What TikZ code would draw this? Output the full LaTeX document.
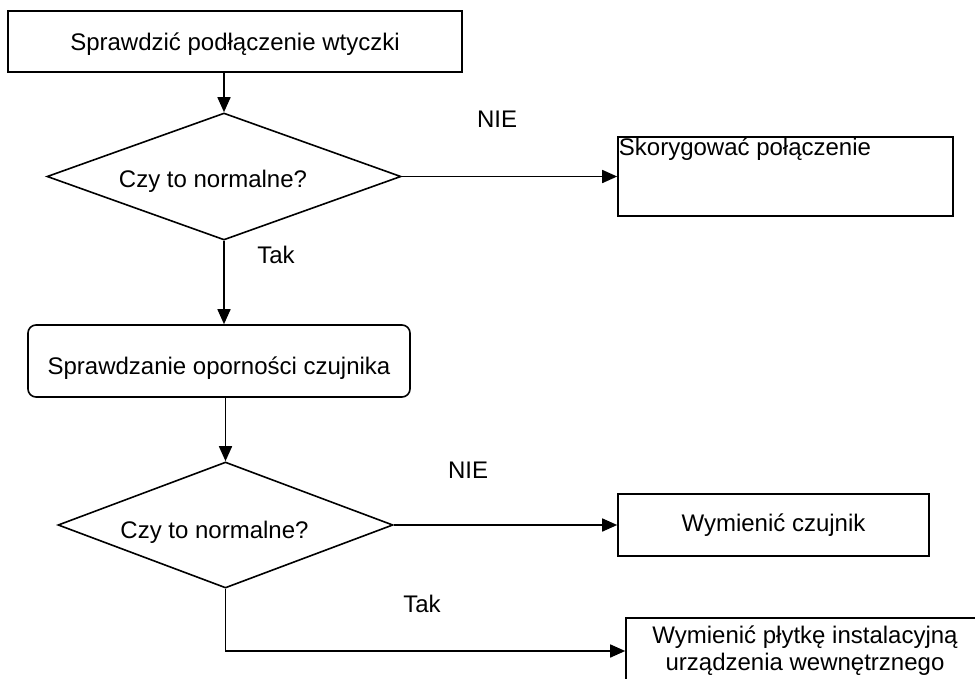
\documentclass[tikz,border=0pt]{standalone}
\usepackage{fontspec}
\setmainfont{Liberation Sans}
\usetikzlibrary{shapes.geometric,arrows.meta}
\begin{document}
\begin{tikzpicture}[x=1pt,y=-1pt,
  every node/.style={font=\fontsize{24}{27}\selectfont, inner sep=0pt},
  ln/.style={line width=1.6pt},
  arr/.style={ln, -{Triangle[length=15pt,width=13pt]}},
  box/.style={draw, ln, rectangle},
  rbox/.style={draw, ln, rectangle, rounded corners=8pt},
  dec/.style={draw, ln, diamond},
  lab/.style={}
]
\useasboundingbox (0,0) rectangle (975,678);
\clip (0,0) rectangle (975,678);

\node[box, minimum width=454pt, minimum height=61pt,
  label={[yshift=-3pt]center:Sprawdzić podłączenie wtyczki}] (top) at (235,41.5) {};
\node[dec, minimum width=354pt, minimum height=127pt,
  label={[xshift=-11pt,yshift=-5pt]center:Czy to normalne?}] (d1) at (224,176.5) {};
\node[box, minimum width=335pt, minimum height=79pt,
  label={[anchor=north west, inner sep=1.5pt]north west:Skorygować połączenie}] (b1) at (785.5,176.5) {};
\node[rbox, minimum width=382pt, minimum height=72pt,
  label={[yshift=-7pt]center:Sprawdzanie oporności czujnika}] (rb) at (219,361) {};
\node[dec, minimum width=335pt, minimum height=126pt,
  label={[xshift=-11pt,yshift=-7pt]center:Czy to normalne?}] (d2) at (225.5,525) {};
\node[box, minimum width=311pt, minimum height=62pt] (b2) at (773.5,525) {Wymienić czujnik};
\node[box, minimum width=358pt, minimum height=66pt, align=center] (b3) at (805,651) {Wymienić płytkę instalacyjną\\urządzenia wewnętrznego};

\node[lab] (nie1) at (497,119) {NIE};
\node[lab] (tak1) at (276,255) {Tak};
\node[lab] (nie2) at (468,470) {NIE};
\node[lab] (tak2) at (422,604) {Tak};

\draw[arr] (top.south -| d1.north) -- (d1.north);
\draw[arr] (d1.east) -- (d1.east -| b1.west);
\draw[arr] (d1.south) -- (d1.south |- rb.north);
\draw[arr] (rb.south -| d2.north) -- (d2.north);
\draw[arr] (d2.east) -- (d2.east -| b2.west);
\draw[arr] (d2.south) |- (b3.west);
\end{tikzpicture}
\end{document}
